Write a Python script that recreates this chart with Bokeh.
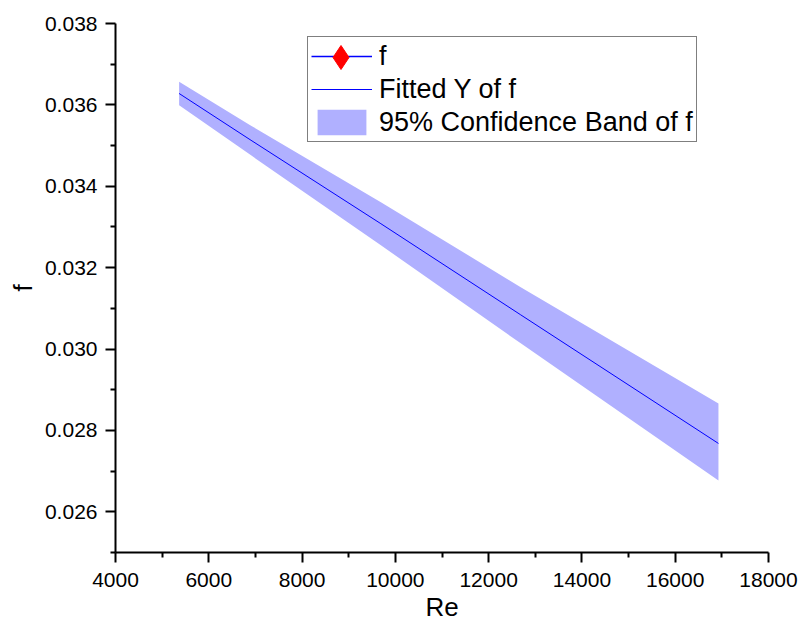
import math
from bokeh.plotting import figure
from bokeh.models import (Range1d, FixedTicker, PrintfTickFormatter, Legend, LegendItem,
                          ColumnDataSource)
from bokeh.embed import file_html
from bokeh.resources import INLINE

# Data
re_vals = [5364, 6906, 9690, 12688, 16927]
fit_vals = [0.03628, 0.03513, 0.03308, 0.03084, 0.02768]
upper_vals = [0.03657, 0.03549, 0.03361, 0.03152, 0.02866]
lower_vals = [0.03599, 0.03476, 0.03255, 0.03014, 0.02677]
# measured "f" points are not visible in the reference (legend entry only)
f_re = [float("nan")]
f_vals = [float("nan")]

x_major = [4000, 6000, 8000, 10000, 12000, 14000, 16000, 18000]
x_minor = [5000, 7000, 9000, 11000, 13000, 15000, 17000]
y_major = [0.026, 0.028, 0.030, 0.032, 0.034, 0.036, 0.038]
y_minor = [0.025, 0.027, 0.029, 0.031, 0.033, 0.035, 0.037]

FONT = "Liberation Sans"

p = figure(width=801, height=628, output_backend="svg", toolbar_location=None,
           x_range=Range1d(4000, 18000), y_range=Range1d(0.025, 0.038),
           min_border_left=115, min_border_right=33, min_border_top=23, min_border_bottom=76)
p.outline_line_color = None
p.xgrid.visible = False
p.ygrid.visible = False
p.background_fill_color = "white"
p.border_fill_color = "white"

band = p.varea(x=re_vals, y1=lower_vals, y2=upper_vals, fill_color="#b0b0ff", fill_alpha=1.0)
fit = p.line(x=re_vals, y=fit_vals, line_color="#0000ff", line_width=1)

fsrc = ColumnDataSource(data=dict(x=f_re, y=f_vals))
f_line = p.line(x="x", y="y", source=fsrc, line_color="#0000ff", line_width=1.5)
f_pts = p.scatter(x="x", y="y", source=fsrc, marker="diamond",
                  size=21, fill_color="red", line_color="red")

for ax in (p.xaxis[0], p.yaxis[0]):
    ax.axis_line_width = 2
    ax.axis_line_color = "black"
    ax.major_tick_line_width = 2
    ax.minor_tick_line_width = 2
    ax.major_tick_in = 0
    ax.major_tick_out = 10
    ax.minor_tick_in = 0
    ax.minor_tick_out = 5
    ax.major_label_text_font = FONT
    ax.major_label_text_font_size = "21px"
    ax.major_label_text_color = "black"
    ax.axis_label_text_font = FONT
    ax.axis_label_text_font_size = "26px"
    ax.axis_label_text_font_style = "normal"
    ax.axis_label_text_color = "black"

p.xaxis.ticker = FixedTicker(ticks=x_major, minor_ticks=x_minor)
p.yaxis.ticker = FixedTicker(ticks=y_major, minor_ticks=y_minor)
p.xaxis.formatter = PrintfTickFormatter(format="%d")
p.yaxis.formatter = PrintfTickFormatter(format="%.3f")
p.xaxis.axis_label = "Re"
p.yaxis.axis_label = "f"
p.xaxis.major_label_standoff = 10
p.xaxis.axis_label_standoff = 2
p.yaxis.major_label_standoff = 8
p.yaxis.axis_label_standoff = 4

# main legend box
legend = Legend(items=[
    LegendItem(label="f", renderers=[f_line]),
    LegendItem(label="Fitted Y of f", renderers=[fit]),
    LegendItem(label="95% Confidence Band of f", renderers=[band]),
], location=(192, 410))
legend.glyph_width = 61
legend.glyph_height = 32
legend.label_height = 32
legend.spacing = 1
legend.padding = 3
legend.margin = 0
legend.label_standoff = 7
legend.label_text_font = FONT
legend.label_text_font_size = "27px"
legend.label_text_color = "black"
legend.border_line_color = "black"
legend.border_line_width = 1
legend.background_fill_color = "white"
legend.background_fill_alpha = 1.0
p.add_layout(legend, "center")

# overlay for the larger diamond marker of the "f" entry
marker_legend = Legend(items=[LegendItem(label=" ", renderers=[f_pts])], location=(195, 465))
marker_legend.glyph_width = 61
marker_legend.glyph_height = 60
marker_legend.label_height = 60
marker_legend.padding = 0
marker_legend.margin = 0
marker_legend.spacing = 0
marker_legend.label_standoff = 0
marker_legend.label_text_font_size = "2px"
marker_legend.border_line_color = None
marker_legend.background_fill_alpha = 0
p.add_layout(marker_legend, "center")

open("out.html", "w").write(file_html(p, INLINE))
